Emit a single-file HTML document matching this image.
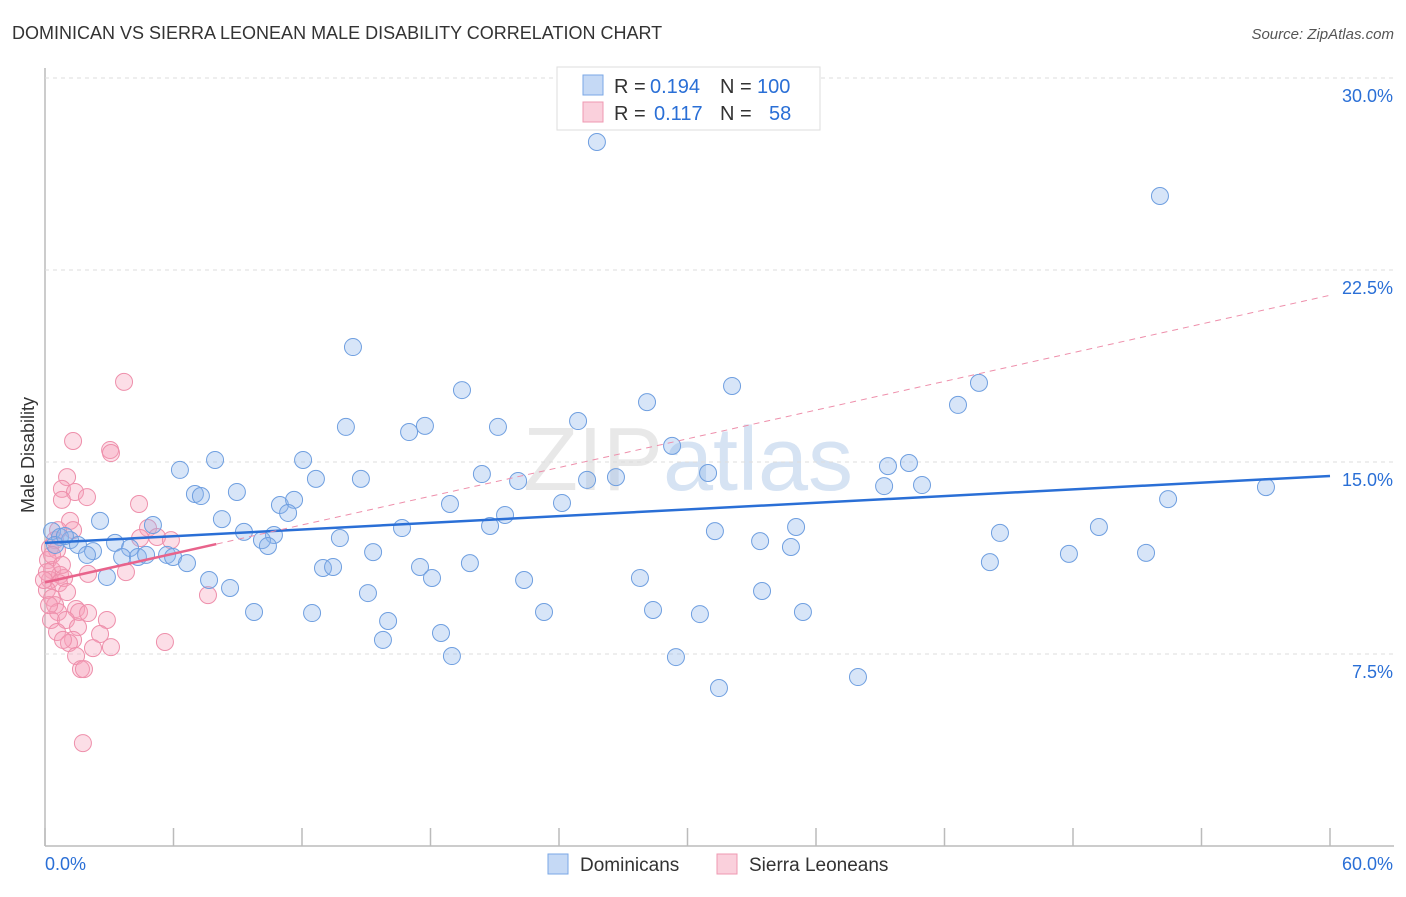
<!DOCTYPE html>
<html><head><meta charset="utf-8"><style>
body{margin:0;background:#fff;font-family:"Liberation Sans",sans-serif;}
svg text{font-family:"Liberation Sans",sans-serif;}
</style></head><body>
<svg id="c" width="1406" height="892" xmlns="http://www.w3.org/2000/svg">
<text x="12" y="39" font-size="18" fill="#333">DOMINICAN VS SIERRA LEONEAN MALE DISABILITY CORRELATION CHART</text>
<text x="1394" y="39" font-size="15" fill="#555" font-style="italic" text-anchor="end">Source: ZipAtlas.com</text>
<text x="34" y="455" font-size="18" fill="#333" text-anchor="middle" transform="rotate(-90 34 455)">Male Disability</text>
<text x="688" y="490" font-size="90" fill="#e8e8e8" text-anchor="middle" font-family="Liberation Serif">ZIP<tspan fill="#d6e3f3" font-family="Liberation Sans">atlas</tspan></text>
<g id="grid"></g><g id="pts"></g><g id="lines"></g>
<g>
<rect x="557" y="67" width="263" height="63" fill="#fff" stroke="#ddd"/>
<rect x="583" y="75" width="20" height="20" fill="#c5d9f5" stroke="#7aa7e6"/>
<rect x="583" y="102" width="20" height="20" fill="#fad0dc" stroke="#ef98b2"/>
<text x="614" y="93" font-size="20" fill="#333">R =</text>
<text x="650" y="93" font-size="20" fill="#2a6fd6">0.194</text>
<text x="720" y="93" font-size="20" fill="#333">N =</text>
<text x="757" y="93" font-size="20" fill="#2a6fd6">100</text>
<text x="614" y="120" font-size="20" fill="#333">R =</text>
<text x="654" y="120" font-size="20" fill="#2a6fd6">0.117</text>
<text x="720" y="120" font-size="20" fill="#333">N =</text>
<text x="769" y="120" font-size="20" fill="#2a6fd6">58</text>
</g>
<g>
<rect x="548" y="854" width="20" height="20" fill="#c5d9f5" stroke="#7aa7e6"/>
<text x="580" y="871" font-size="19" fill="#333">Dominicans</text>
<rect x="717" y="854" width="20" height="20" fill="#fad0dc" stroke="#ef98b2"/>
<text x="749" y="871" font-size="19" fill="#333">Sierra Leoneans</text>
</g>
</svg>
<script>
const xTicks=[0,6,12,18,24,30,36,42,48,54,60];
const yTicks=[7.5,15,22.5,30];
const yTickLabels=["7.5%","15.0%","22.5%","30.0%"];
const blueX=[];const blueY=[];const pinkX=[];const pinkY=[];
const bluePx=[[597,142],[1160,196],[353,347],[462,390],[732,386],[979,383],[958,405],[647,402],[346,427],[425,426],[409,432],[498,427],[578,421],[672,446],[180,470],[215,460],[303,460],[316,479],[361,479],[482,474],[518,481],[587,480],[616,477],[708,473],[888,466],[909,463],[884,486],[922,485],[1266,487],[1168,499],[195,494],[201,496],[237,492],[280,505],[294,500],[288,513],[450,504],[505,515],[562,503],[100,521],[153,525],[222,519],[244,532],[274,535],[262,540],[268,546],[340,538],[402,528],[490,526],[715,531],[796,527],[1000,533],[1099,527],[52,531],[60,537],[70,540],[78,545],[93,551],[87,555],[115,543],[130,548],[122,557],[138,557],[146,555],[167,555],[173,557],[187,563],[107,577],[209,580],[230,588],[323,568],[333,567],[373,552],[420,567],[432,578],[470,563],[524,580],[640,578],[760,541],[791,547],[990,562],[1069,554],[1146,553],[254,612],[312,613],[368,593],[388,621],[544,612],[653,610],[700,614],[762,591],[803,612],[383,640],[441,633],[452,656],[676,657],[719,688],[858,677],[55,545],[65,536]];
const pinkPx=[[124,382],[73,441],[110,450],[111,453],[67,477],[62,489],[75,492],[87,497],[62,500],[139,504],[70,521],[73,530],[148,528],[157,537],[140,538],[171,540],[55,540],[50,548],[57,550],[48,560],[52,570],[60,575],[64,578],[50,580],[88,574],[126,572],[59,583],[47,590],[52,598],[67,592],[55,605],[58,612],[76,609],[79,612],[88,613],[51,620],[66,620],[107,620],[78,627],[57,632],[100,634],[73,640],[69,643],[93,648],[111,647],[63,640],[76,656],[81,669],[84,669],[165,642],[208,595],[83,743],[47,572],[52,555],[44,580],[58,530],[62,565],[49,605]];
bluePx.forEach(p=>{blueX.push(+((p[0]-45)*60/1285).toFixed(2));blueY.push(+((846-p[1])*7.5/192).toFixed(2));});
pinkPx.forEach(p=>{pinkX.push(+((p[0]-45)*60/1285).toFixed(2));pinkY.push(+((846-p[1])*7.5/192).toFixed(2));});
const sx=v=>45+v*1285/60, sy=v=>846-v*192/7.5;
const NS="http://www.w3.org/2000/svg";
function mk(t,a,par){const e=document.createElementNS(NS,t);for(const k in a)e.setAttribute(k,a[k]);document.getElementById(par).appendChild(e);return e;}
let ax=mk('line',{x1:45,y1:68,x2:45,y2:846,stroke:'#bbb','stroke-width':1.5},'grid');


let bx=mk('line',{x1:45,y1:846,x2:1394,y2:846,stroke:'#bbb','stroke-width':1.5},'grid');


xTicks.forEach(v=>{let t=mk('line',{x1:sx(v),y1:828,x2:sx(v),y2:846,stroke:'#bbb','stroke-width':1.5},'grid');

});
yTicks.forEach((v,i)=>{let g=mk('line',{x1:45,y1:sy(v),x2:1394,y2:sy(v),stroke:'#ddd','stroke-dasharray':'4,4'},'grid');


let t=mk('text',{x:1393,y:sy(v)+24,'font-size':18,fill:'#2a6fd6','text-anchor':'end'},'grid');t.textContent=yTickLabels[i];

});
let l0=mk('text',{x:45,y:870,'font-size':18,fill:'#2a6fd6'},'grid');l0.textContent="0.0%";


let l1=mk('text',{x:1393,y:870,'font-size':18,fill:'#2a6fd6','text-anchor':'end'},'grid');l1.textContent="60.0%";


pinkX.forEach((x,i)=>{let c=mk('circle',{cx:sx(x),cy:sy(pinkY[i]),r:8.5,fill:'rgba(246,160,185,0.35)',stroke:'#ee8fab','stroke-width':1},'pts');

});
blueX.forEach((x,i)=>{let c=mk('circle',{cx:sx(x),cy:sy(blueY[i]),r:8.5,fill:'rgba(140,180,235,0.35)',stroke:'#6f9fe0','stroke-width':1},'pts');

});
function fit(X,Y){const n=X.length;let mx=0,my=0;X.forEach((v,i)=>{mx+=v;my+=Y[i];});mx/=n;my/=n;let a=0,b=0;X.forEach((v,i)=>{a+=(v-mx)*(Y[i]-my);b+=(v-mx)*(v-mx);});const s=a/b;return [s,my-s*mx];}
const bf=fit(blueX,blueY), pf=fit(pinkX,pinkY);
let bl=mk('line',{x1:sx(0),y1:sy(bf[1]),x2:sx(60),y2:sy(bf[1]+bf[0]*60),stroke:'#2a6fd6','stroke-width':2.5},'lines');


let pd=mk('line',{x1:sx(0),y1:sy(pf[1]),x2:sx(60),y2:sy(pf[1]+pf[0]*60),stroke:'#ee8fab','stroke-width':1,'stroke-dasharray':'6,5'},'lines');


let ps=mk('line',{x1:sx(0),y1:sy(pf[1]),x2:sx(8),y2:sy(pf[1]+pf[0]*8),stroke:'#e8638b','stroke-width':2.5},'lines');


</script>
</body></html>
